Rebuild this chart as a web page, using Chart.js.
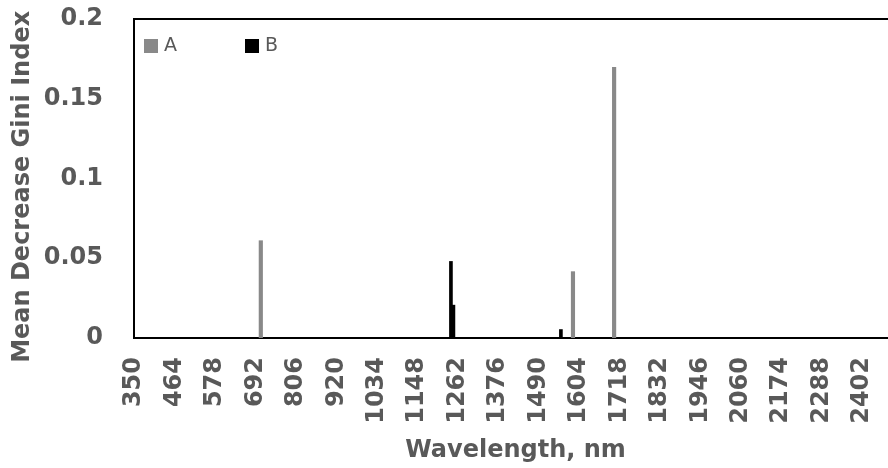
<!DOCTYPE html>
<html>
<head>
<meta charset="utf-8">
<script src="https://cdn.jsdelivr.net/npm/chart.js@4.4.1/dist/chart.umd.min.js"></script>
<style>
  html, body { margin: 0; padding: 0; background: #fff; overflow: hidden; }
  #wrap { width: 900px; height: 468px; }
</style>
</head>
<body>
<div id="wrap"><canvas id="myChart" width="900" height="468"></canvas></div>
<script>
// Wavelength tick labels and y ticks
const xTicks = [350, 464, 578, 692, 806, 920, 1034, 1148, 1262, 1376, 1490, 1604, 1718, 1832, 1946, 2060, 2174, 2288, 2402];
const yTicks = [0, 0.05, 0.1, 0.15, 0.2];

// Series A (grey) and B (black): wavelength in nm and Mean Decrease Gini
const wavelengthsA = [707, 1587, 1703];
const valuesA = [0.061, 0.0416, 0.1697];
const wavelengthsB = [1243, 1250, 1553];
const valuesB = [0.048, 0.0206, 0.0053];

const textGrey = '#595959';
const fontFamily = '"DejaVu Sans", sans-serif';

// frame around the plot area
const framePlugin = {
    id: 'frame',
    beforeDatasetsDraw(chart) {
        const {ctx, chartArea: a} = chart;
        ctx.save();
        ctx.strokeStyle = '#000';
        ctx.lineWidth = 2;
        ctx.strokeRect(a.left, a.top, a.right - a.left, a.bottom - a.top);
        ctx.restore();
    }
};

// legend drawn inside the plot, top left
const insideLegend = {
    id: 'insideLegend',
    afterDraw(chart) {
        const ctx = chart.ctx;
        const xs = [144, 245];
        ctx.save();
        ctx.font = '19px ' + fontFamily;
        ctx.textBaseline = 'middle';
        chart.data.datasets.forEach((ds, i) => {
            ctx.fillStyle = ds.backgroundColor;
            ctx.fillRect(xs[i], 39, 14, 14);
            ctx.fillStyle = textGrey;
            ctx.fillText(ds.label, xs[i] + 20, 46);
        });
        ctx.restore();
    }
};

const ctx = document.getElementById('myChart').getContext('2d');
const myChart = new Chart(ctx, {
    type: 'bar',
    data: {
        datasets: [{
            label: 'A',
            data: wavelengthsA.map((w, i) => ({x: w, y: valuesA[i]})),
            backgroundColor: '#898989',
            barThickness: 3.5
        }, {
            label: 'B',
            data: wavelengthsB.map((w, i) => ({x: w, y: valuesB[i]})),
            backgroundColor: '#000000',
            barThickness: 3
        }]
    },
    plugins: [framePlugin, insideLegend],
    options: {
        responsive: false,
        animation: false,
        datasets: { bar: { grouped: false } },
        layout: { padding: { top: 19, right: 3, left: 0, bottom: 0 } },
        scales: {
            x: {
                type: 'linear',
                offset: false,
                min: 349.5,
                max: 2500.5,
                grid: { display: false, offset: false, drawTicks: true, tickLength: 19 },
                border: { display: false },
                afterBuildTicks: (scale) => { scale.ticks = xTicks.map(v => ({value: v})); },
                afterFit: (scale) => { scale.height = 130; },
                ticks: {
                    autoSkip: false,
                    minRotation: 90,
                    maxRotation: 90,
                    padding: 0,
                    color: textGrey,
                    font: { family: fontFamily, size: 24, weight: 'bold' },
                    callback: (v) => String(v)
                },
                title: {
                    display: true,
                    text: 'Wavelength, nm',
                    color: textGrey,
                    font: { family: fontFamily, size: 24, weight: 'bold' },
                    padding: { top: 0, bottom: 3 }
                }
            },
            y: {
                min: 0,
                max: 0.2,
                grid: { display: false, drawTicks: true, tickLength: 31 },
                border: { display: false },
                afterBuildTicks: (scale) => { scale.ticks = yTicks.map(v => ({value: v})); },
                afterFit: (scale) => { scale.width = 134; },
                ticks: {
                    padding: 0,
                    color: textGrey,
                    font: { family: fontFamily, size: 24, weight: 'bold' },
                    callback: (v) => String(v)
                },
                title: {
                    display: true,
                    // two trailing nbsp push the title a bit lower, like the original
                    text: 'Mean Decrease Gini Index\u00a0\u00a0',
                    color: textGrey,
                    font: { family: fontFamily, size: 24, weight: 'bold' },
                    padding: { top: 8, bottom: 0 }
                }
            }
        },
        plugins: {
            legend: { display: false },
            tooltip: { enabled: false }
        }
    }
});
</script>
</body>
</html>
